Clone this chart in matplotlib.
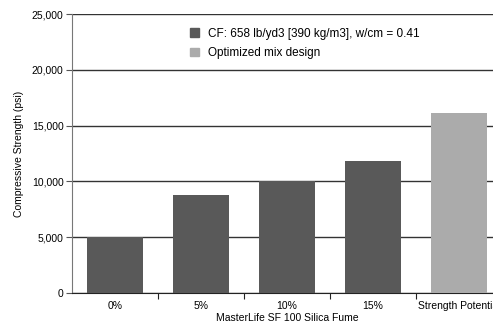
import matplotlib
matplotlib.use("Agg")
import matplotlib.pyplot as plt
from matplotlib.patches import Patch
from matplotlib.ticker import FuncFormatter

plt.rcParams['font.family'] = ['Liberation Sans', 'DejaVu Sans']

# silica fume dosage series plus the optimized mix
categories = ['0%', '5%', '10%', '15%', 'Strength Potential']
strength = [5000, 8800, 10050, 11800, 16100]
series = ['cf', 'cf', 'cf', 'cf', 'opt']
legend_labels = ['CF: 658 lb/yd3 [390 kg/m3], w/cm = 0.41', 'Optimized mix design']

colors = {'cf': '#595959', 'opt': '#ababab'}

fig = plt.figure(figsize=(4.93, 3.22), dpi=100)
# axes run a bit past the right edge, so the last bar label gets cut
ax = fig.add_axes([0.146, 0.090, 0.872, 0.866])

x = list(range(len(categories)))
ax.bar(x, strength, width=0.66, color=[colors[s] for s in series], zorder=3)

ax.set_xlim(-0.5, len(categories) - 0.5)
ax.set_ylim(0, 25000)
ax.set_yticks(range(0, 25001, 5000))
ax.yaxis.set_major_formatter(FuncFormatter(lambda v, p: f'{int(v):,}'))
ax.grid(axis='y', color='#333333', linewidth=1.0, zorder=0)

ax.set_xticks([i + 0.5 for i in x[:-1]] + [len(categories) - 0.5])
ax.set_xticklabels([])
ax.set_xticks(x, minor=True)
ax.set_xticklabels(categories, minor=True)
ax.tick_params(axis='x', which='minor', length=0, labelsize=7.5, pad=6)
ax.tick_params(axis='x', which='major', length=4, direction='out', color='#222222')
ax.tick_params(axis='y', length=4, direction='out', labelsize=7.5, color='#555555', pad=2)

for side in ['top', 'right']:
    ax.spines[side].set_visible(False)
ax.spines['left'].set_color('#777777')
ax.spines['bottom'].set_color('#222222')

ax.set_xlabel('MasterLife SF 100 Silica Fume', fontsize=7.5, labelpad=1)
ax.set_ylabel('Compressive Strength (psi)', fontsize=7.5, labelpad=6)

handles = [Patch(color=colors['cf']), Patch(color=colors['opt'])]
ax.legend(handles, legend_labels, loc='upper left', bbox_to_anchor=(0.25, 0.99),
          frameon=False, fontsize=8.5, handlelength=0.75, handleheight=0.75,
          handletextpad=0.8, labelspacing=0.65, borderpad=0.4)

fig.savefig('out.png', dpi=100)
